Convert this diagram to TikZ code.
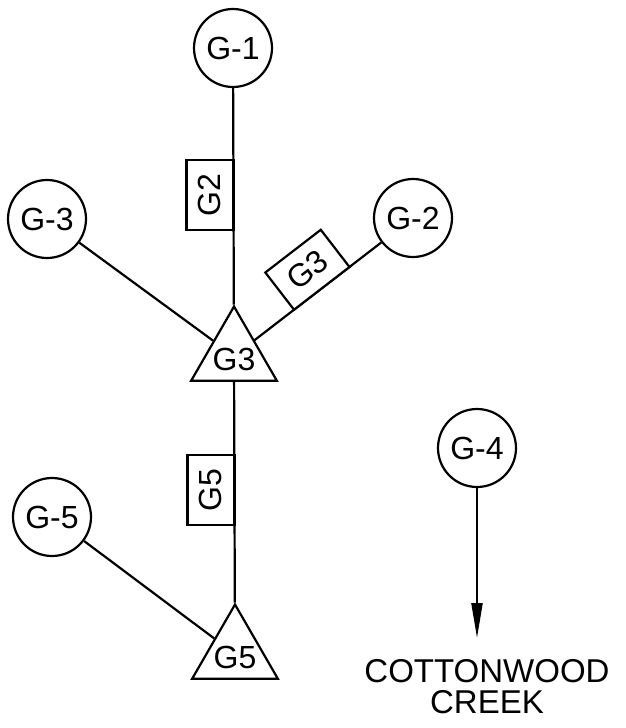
\documentclass[tikz,border=0pt]{standalone}
\usepackage{fontspec}
\setmainfont{Liberation Sans}
\usetikzlibrary{arrows.meta}
\usetikzlibrary{shapes.geometric}
\tikzset {
  label font/.style = {
    font = \fontsize{32}{32}\selectfont
  },
  % sampling station
  station/.style = {
    draw = black,
    circle,
    line width = 2.2pt,
    minimum size = 78pt,
    inner sep = 0,
    label font
  },
  % weir with its name inside
  weir/.style = {
    draw = black,
    regular polygon,
    regular polygon sides = 3,
    line width = 2.2pt,
    minimum size = 99pt,
    inner sep = 0,
    label = {[label font, yshift=-3pt]center:#1}
  },
  % reach label sitting on a connector
  tag/.style = {
    draw = black,
    rectangle,
    fill = white,
    line width = 2.2pt,
    minimum width = 70pt,
    minimum height = 47pt,
    inner sep = 0,
    outer sep = 0,
    label font
  }
}
\tikzset {
  link/.style = {
    draw = black,
    line width = 2.2pt
  },
  % path into the creek
  flow/.style = {
    link,
    -{Triangle[length=35pt, width=11pt]}
  }
}

\begin{document}
\begin{tikzpicture}[x=1pt, y=-1pt]
    \useasboundingbox (0,0) rectangle (625,728);

    \node[station] (g1) at (233,48) {G-1};
    \node[station] (g2) at (413,218) {G-2};
    \node[station] (g3) at (47,219) {G-3};
    \node[station] (g4) at (477,448) {G-4};
    \node[station] (g5) at (52,517) {G-5};

    \node[weir=G3] (t3) at (234,356) {};
    \node[weir=G5] (t5) at (235,654) {};

    \node[font=\fontsize{33}{31}\selectfont, align=center, inner sep=0,
      anchor=north] (creek) at (487,659) {COTTONWOOD\\CREEK};

    % upper weir
    \draw[link] (g1)
      -- node[tag, pos=0.495, anchor=south, rotate=90] (l2) {G2}
      (t3);
    \draw[link] (t3)
      -- node[tag, pos=0.53, sloped, anchor=south] (l3) {G3}
      (g2);
    \draw[link] (g3) -- (t3);

    % lower weir
    \draw[link] (t3)
      -- node[tag, pos=0.49, anchor=south, rotate=90] (l5) {G5}
      (t5);
    \draw[link] (g5) -- (t5);

    % outfall
    \draw[flow, shorten >=21pt] (g4) -- (g4 |- creek.north);
\end{tikzpicture}
\end{document}
